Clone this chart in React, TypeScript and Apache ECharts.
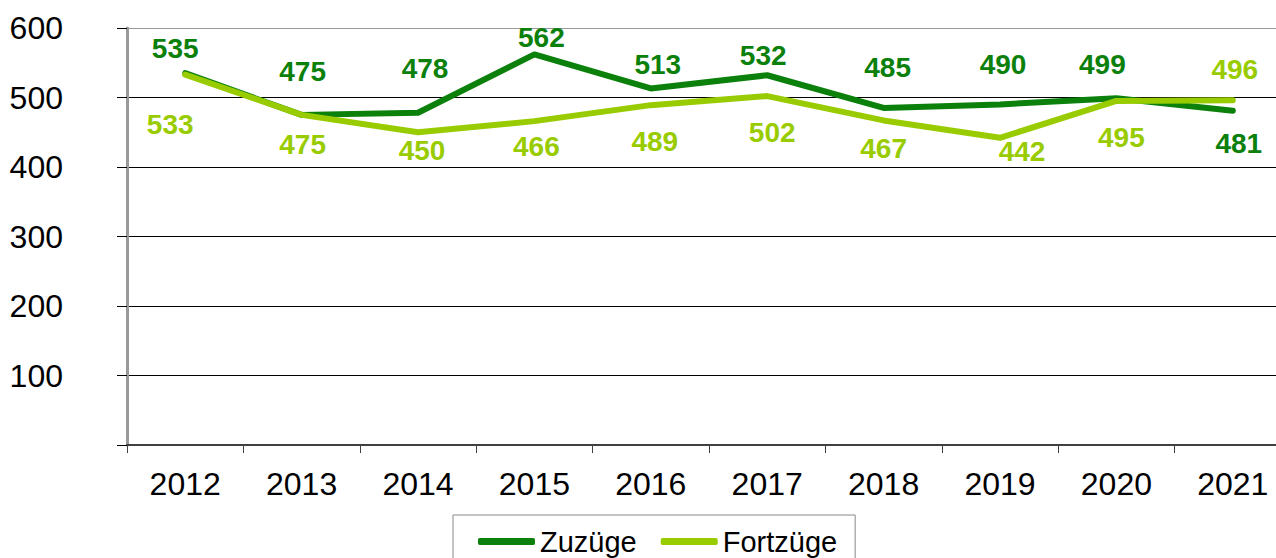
import React, { useEffect, useRef } from "react";
import * as echarts from "echarts";

const years = ["2012", "2013", "2014", "2015", "2016", "2017", "2018", "2019", "2020", "2021"];
const zuzuege = [535, 475, 478, 562, 513, 532, 485, 490, 499, 481];
const fortzuege = [533, 475, 450, 466, 489, 502, 467, 442, 495, 496];

// label nudges in pixels from the data point (as placed in the original chart)
const zuzuegeLabelDx = [-10, 1, 7, 7, 7, -4, 4, 3, -14, 6];
const zuzuegeLabelDy = [-25, -43, -44, -17, -24, -20, -40, -40, -34, 33];
const fortzuegeLabelDx = [-15, 1, 4, 2, 4, 5, 0, 22, 5, 2];
const fortzuegeLabelDy = [50, 30, 18, 25, 36, 36, 28, 14, 37, -31];

const DARK = "#0b800b";
const LIGHT = "#99cc00";
const FONT = "'Liberation Sans', Arial, sans-serif";

export default function App() {
  const ref = useRef<HTMLDivElement>(null);
  useEffect(() => {
    if (!ref.current) return;
    const chart = echarts.init(ref.current, null, { renderer: "svg" });
    const nudge = (dx: number[], dy: number[]) => (p: any) => ({
      dx: dx[p.dataIndex],
      dy: dy[p.dataIndex],
      hideOverlap: false,
    });
    chart.setOption({
      animation: false,
      backgroundColor: "#ffffff",
      grid: { left: 127, top: 28, bottom: 113, right: 0 },
      xAxis: {
        type: "category",
        data: years,
        boundaryGap: true,
        axisLine: { show: true, lineStyle: { color: "#404040", width: 2 } },
        axisTick: { show: true, length: 8, lineStyle: { color: "#404040", width: 1 } },
        axisLabel: { color: "#000", fontSize: 32, fontFamily: FONT, margin: 23 },
        splitLine: { show: false },
      },
      yAxis: {
        type: "value",
        min: 0,
        max: 600,
        interval: 100,
        axisLine: { show: true, lineStyle: { color: "#999999", width: 3 } },
        axisTick: { show: true, length: 10, lineStyle: { color: "#000", width: 1 } },
        axisLabel: {
          color: "#000",
          fontSize: 32,
          fontFamily: FONT,
          margin: 64,
          formatter: (v: number) => (v === 0 ? "" : String(v)),
        },
        splitLine: {
          show: true,
          lineStyle: {
            color: ["#000", "#000", "#000", "#000", "#000", "#000", "#999999"],
            width: 1,
          },
        },
      },
      legend: {
        left: 453,
        top: 515,
        padding: [12, 18, 14, 25],
        itemGap: 24,
        itemWidth: 57,
        itemHeight: 7,
        borderColor: "#888888",
        borderWidth: 1,
        textStyle: { color: "#000", fontSize: 29, fontFamily: FONT },
        data: [
          { name: "Zuzüge", icon: "roundRect" },
          { name: "Fortzüge", icon: "roundRect" },
        ],
      },
      series: [
        {
          name: "Zuzüge",
          type: "line",
          data: zuzuege,
          showSymbol: true,
          symbol: "circle",
          symbolSize: 0,
          color: DARK,
          lineStyle: { color: DARK, width: 6, cap: "round", join: "round" },
          label: {
            show: true,
            position: "inside",
            color: DARK,
            fontSize: 28,
            fontWeight: "bold",
            fontFamily: FONT,
          },
          labelLayout: nudge(zuzuegeLabelDx, zuzuegeLabelDy),
          z: 2,
        },
        {
          name: "Fortzüge",
          type: "line",
          data: fortzuege,
          showSymbol: true,
          symbol: "circle",
          symbolSize: 0,
          color: LIGHT,
          lineStyle: { color: LIGHT, width: 6, cap: "round", join: "round" },
          label: {
            show: true,
            position: "inside",
            color: LIGHT,
            fontSize: 28,
            fontWeight: "bold",
            fontFamily: FONT,
          },
          labelLayout: nudge(fortzuegeLabelDx, fortzuegeLabelDy),
          z: 3,
        },
      ],
    });
    return () => chart.dispose();
  }, []);
  return (
    <div style={{ position: "absolute", left: 0, top: 0, width: 1276, height: 558, overflow: "hidden" }}>
      <div ref={ref} style={{ width: 1291, height: 558 }} />
    </div>
  );
}
